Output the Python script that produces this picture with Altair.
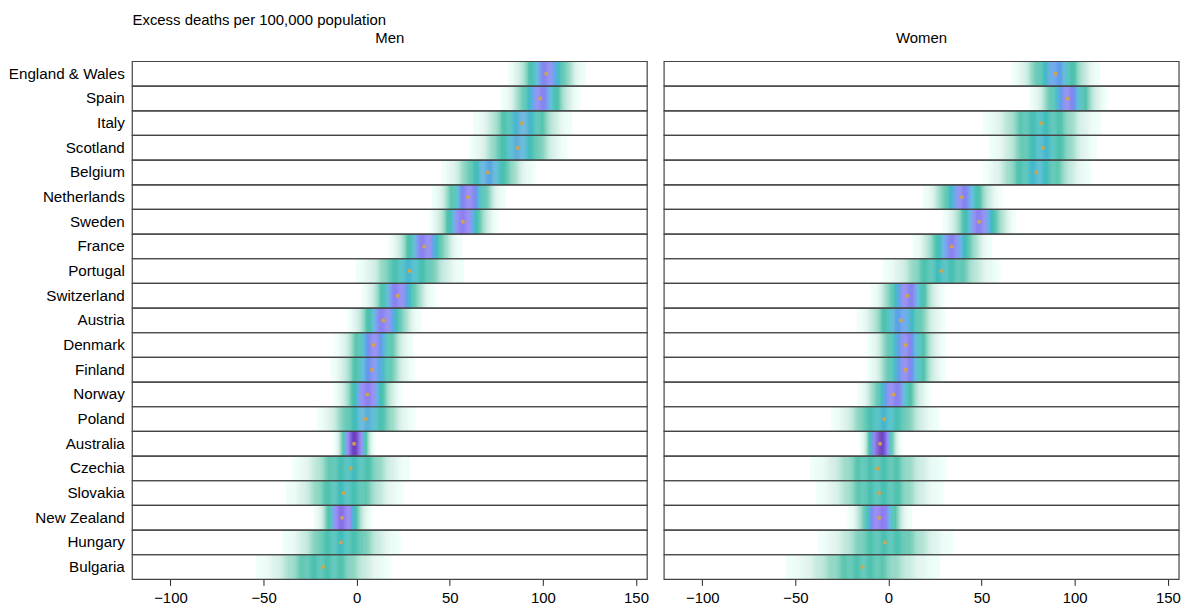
import altair as alt
import numpy as np
import pandas as pd

countries = ["England & Wales", "Spain", "Italy", "Scotland", "Belgium", "Netherlands",
             "Sweden", "France", "Portugal", "Switzerland", "Austria", "Denmark", "Finland",
             "Norway", "Poland", "Australia", "Czechia", "Slovakia", "New Zealand",
             "Hungary", "Bulgaria"]

# central estimate (dot) and spread of each strip
men_median = [101.8, 98.6, 88.8, 86.5, 70.5, 59.8, 57.1, 36.3, 28.3, 22.0, 14.4,
              9.1, 8.2, 5.7, 4.7, -1.4, -3.2, -6.9, -7.8, -8.5, -18.0]
men_sd = [7.0, 7.0, 9.0, 9.0, 8.5, 6.5, 6.0, 6.5, 10.0, 6.5, 6.5,
          7.0, 7.5, 6.0, 9.0, 3.5, 11.0, 11.0, 5.0, 11.0, 13.0]
women_median = [89.7, 96.2, 82.0, 82.9, 79.4, 39.4, 48.6, 34.0, 28.2, 10.1, 6.6,
                9.2, 9.2, 2.7, -2.3, -4.5, -5.9, -5.0, -5.0, -2.0, -13.9]
women_sd = [8.0, 7.0, 11.0, 10.0, 10.0, 7.0, 6.5, 7.0, 11.0, 6.5, 8.0,
            7.0, 7.0, 6.5, 10.0, 3.5, 13.0, 12.0, 5.5, 13.0, 15.0]

panels = ["Men", "Women"]
x_ticks = [-100, -50, 0, 50, 100, 150]
x_domain = [-120.5, 156.0]

FONT = "Liberation Sans"
W, H = 518, 521
STEP = 0.5


def strip_table(medians, sds):
    grid = np.arange(x_domain[0], x_domain[1], STEP)
    rows = []
    for c, m, s in zip(countries, medians, sds):
        d = np.exp(-0.5 * ((grid - m) / s) ** 2) / (s * np.sqrt(2 * np.pi))
        keep = d > 0.0006
        for g, v in zip(grid[keep], d[keep]):
            rows.append({"country": c, "x0": g, "x1": g + STEP * 1.3, "dens": v})
    return pd.DataFrame(rows)


color_scale = alt.Scale(
    domain=[0, 0.003, 0.012, 0.022, 0.034, 0.044, 0.054, 0.068, 0.115],
    range=["#ffffff", "#e4f5f0", "#9fdccb", "#55c4ae", "#48bfb4", "#5fb0d8",
           "#8587ee", "#8f7ff4", "#6a3fc0"],
    clamp=True,
)

y_scale = alt.Scale(domain=countries, paddingInner=0, paddingOuter=0)
x_scale = alt.Scale(domain=x_domain, nice=False, zero=False)


def panel(name, medians, sds, show_y):
    sdf = strip_table(medians, sds)
    cdf = pd.DataFrame({"country": countries, "med": medians})
    yaxis = (alt.Axis(title=None, ticks=False, domain=False, labelFontSize=15.3,
                      labelColor="black", labelPadding=8, labelFont=FONT)
             if show_y else None)
    xaxis = alt.Axis(title=None, values=x_ticks, grid=False, domain=False, tickSize=6,
                     tickColor="#222", labelFontSize=15, labelColor="black",
                     labelFont=FONT, labelPadding=5, labelFlush=False)
    strips = alt.Chart(sdf).mark_rect(clip=True).encode(
        x=alt.X("x0:Q", scale=x_scale, axis=xaxis),
        x2="x1:Q",
        y=alt.Y("country:N", scale=y_scale, axis=yaxis, sort=countries),
        color=alt.Color("dens:Q", scale=color_scale, legend=None),
    )
    boxes = alt.Chart(cdf).mark_rect(fillOpacity=0, stroke="#444", strokeWidth=1.2).encode(
        x=alt.value(0), x2=alt.value(W),
        y=alt.Y("country:N", scale=y_scale, sort=countries),
    )
    dots = alt.Chart(cdf).mark_circle(size=16, color="#d9a441", opacity=0.9).encode(
        x=alt.X("med:Q", scale=x_scale),
        y=alt.Y("country:N", scale=y_scale, sort=countries),
    )
    return alt.layer(strips, boxes, dots).properties(
        width=W, height=H,
        title=alt.TitleParams(name, fontSize=15, fontWeight="normal", anchor="middle",
                              font=FONT, offset=15, color="black"),
    )


chart = alt.hconcat(
    panel(panels[0], men_median, men_sd, True),
    panel(panels[1], women_median, women_sd, False),
    spacing=14,
).properties(
    title=alt.TitleParams("Excess deaths per 100,000 population", anchor="start",
                          fontSize=15, fontWeight="normal", font=FONT, dx=125,
                          offset=3, color="black"),
    padding={"left": 0, "top": 3, "right": 2, "bottom": 2},
).configure_view(strokeWidth=0).configure_concat(spacing=14)

chart.save("out.html", embed_options={"renderer": "svg", "actions": False})
